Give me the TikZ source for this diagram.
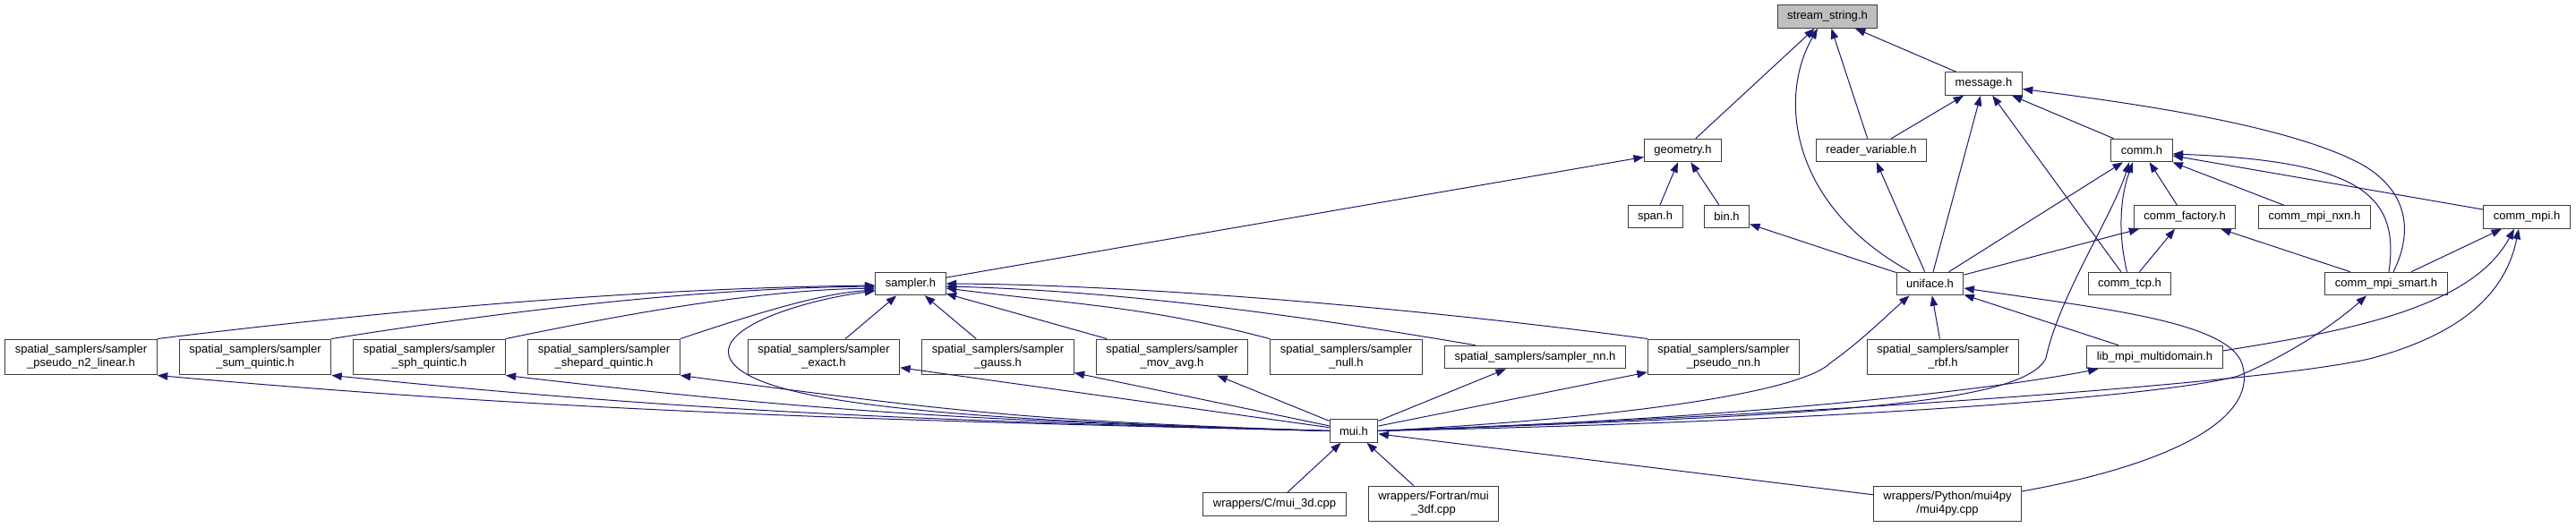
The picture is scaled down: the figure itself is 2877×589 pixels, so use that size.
\documentclass[tikz,border=0pt]{standalone}
\usepackage{fontspec}
\setmainfont{Liberation Sans}
\usetikzlibrary{arrows.meta,calc}
\definecolor{EdgeBlue}{RGB}{25,25,112}
\definecolor{BoxLine}{RGB}{60,60,60}
\definecolor{RootFill}{RGB}{191,191,191}
\tikzset{
  filebox/.style={draw=BoxLine,fill=white,line width=1pt,inner xsep=11pt,inner ysep=6.4pt,
    minimum height=25.6pt,align=center,font=\fontsize{13}{15}\selectfont},
  rootbox/.style={filebox,fill=RootFill},
  incl/.style={-{Triangle[length=11.5pt,width=8.5pt]},draw=EdgeBlue,line width=1pt}
}

\begin{document}
\begin{tikzpicture}[x=1pt,y=1pt]
  \useasboundingbox (0,0) rectangle (2877,-589);

  \node[rootbox] (stream) at (2041,-18.5) {stream\_string.h};
  \node[filebox] (message) at (2215.5,-93.5) {message.h};
  \node[filebox] (geometry) at (1879.5,-168) {geometry.h};
  \node[filebox] (reader) at (2090,-168) {reader\_variable.h};
  \node[filebox] (comm) at (2392,-168) {comm.h};
  \node[filebox] (span) at (1848.5,-242) {span.h};
  \node[filebox] (bin) at (1928.5,-242) {bin.h};
  \node[filebox] (factory) at (2440,-242.5) {comm\_factory.h};
  \node[filebox] (mpinxn) at (2585,-242.5) {comm\_mpi\_nxn.h};
  \node[filebox] (mpi) at (2822,-242.5) {comm\_mpi.h};
  \node[filebox] (sampler) at (1017,-317) {sampler.h};
  \node[filebox] (uniface) at (2155.5,-317) {uniface.h};
  \node[filebox] (tcp) at (2378.5,-317) {comm\_tcp.h};
  \node[filebox] (smart) at (2665,-317) {comm\_mpi\_smart.h};

  \node[filebox] (pnlinear) at (90.5,-399) {spatial\_samplers/sampler\\\_pseudo\_n2\_linear.h};
  \node[filebox] (sumquintic) at (285,-399) {spatial\_samplers/sampler\\\_sum\_quintic.h};
  \node[filebox] (sphquintic) at (479.5,-399) {spatial\_samplers/sampler\\\_sph\_quintic.h};
  \node[filebox] (shepquintic) at (674.5,-399) {spatial\_samplers/sampler\\\_shepard\_quintic.h};
  \node[filebox] (exact) at (920,-399) {spatial\_samplers/sampler\\\_exact.h};
  \node[filebox] (gauss) at (1114.5,-399) {spatial\_samplers/sampler\\\_gauss.h};
  \node[filebox] (movavg) at (1309,-399) {spatial\_samplers/sampler\\\_mov\_avg.h};
  \node[filebox] (null) at (1503.5,-399) {spatial\_samplers/sampler\\\_null.h};
  \node[filebox] (nn) at (1714.5,-399) {spatial\_samplers/sampler\_nn.h};
  \node[filebox] (pseudonn) at (1925,-399) {spatial\_samplers/sampler\\\_pseudo\_nn.h};
  \node[filebox] (rbf) at (2170,-399) {spatial\_samplers/sampler\\\_rbf.h};
  \node[filebox] (multidomain) at (2406.5,-399) {lib\_mpi\_multidomain.h};

  \node[filebox] (mui) at (1512,-481.5) {mui.h};
  \node[filebox] (wrapc) at (1423.5,-563.5) {wrappers/C/mui\_3d.cpp};
  \node[filebox] (wrapf) at (1601,-563) {wrappers/Fortran/mui\\\_3df.cpp};
  \node[filebox] (wrappy) at (2175,-563) {wrappers/Python/mui4py\\/mui4py.cpp};

  % includes of stream_string.h and message.h
  \draw[incl] (geometry) -- (stream);
  \draw[incl] (reader) -- (stream);
  \draw[incl] (message) -- (stream);
  \draw[incl] ([xshift=-22pt]uniface.north) .. controls (2000,-230) and (1985,-110) .. ([xshift=-11pt]stream.south);
  \draw[incl] (reader) -- (message);
  \draw[incl] (uniface) -- (message);
  \draw[incl] (tcp) -- (message);
  \draw[incl] (comm) -- (message);
  \draw[incl] ([xshift=8pt]smart.north) .. controls (2695,-260) and (2690,-215) .. (2640,-185)
    .. controls (2560,-140) and (2380,-115) .. ([yshift=-6pt]message.east);

  \draw[incl] (span) -- (geometry);
  \draw[incl] (bin) -- (geometry);
  \draw[incl] (sampler) -- (geometry);
  \draw[incl] (uniface) -- (reader);
  \draw[incl] (uniface) -- (bin);

  % comm layer
  \draw[incl] (uniface) -- (comm);
  \draw[incl] (factory) -- (comm);
  \draw[incl] (mpinxn) -- (comm);
  \draw[incl] (mpi) -- (comm);
  \draw[incl] ([xshift=-3pt]tcp.north) .. controls (2365,-260) and (2368,-220) .. ([xshift=-10pt]comm.south);
  \draw[incl] ([xshift=3pt]smart.north) .. controls (2680,-220) and (2640,-180) .. ([yshift=-4pt]comm.east);
  \draw[incl] (mui.east) .. controls (2000,-465) and (2260,-455) .. (2285,-400)
    .. controls (2300,-330) and (2360,-240) .. ([xshift=-14pt]comm.south);
  \draw[incl] (uniface) -- (factory);
  \draw[incl] (tcp) -- (factory);
  \draw[incl] (smart) -- (factory);
  \draw[incl] (smart) -- (mpi);
  \draw[incl] ([yshift=7pt]multidomain.east) .. controls (2620,-370) and (2760,-345) .. ([xshift=-14pt]mpi.south);
  \draw[incl] (mui.east) .. controls (2100,-460) and (2550,-425) .. (2650,-400)
    .. controls (2760,-370) and (2800,-320) .. ([xshift=-9pt]mpi.south);
  \draw[incl] (mui.east) .. controls (2100,-470) and (2430,-440) .. (2500,-420)
    .. controls (2560,-395) and (2610,-360) .. ([xshift=-22pt]smart.south);

  % uniface.h
  \draw[incl] (rbf) -- (uniface);
  \draw[incl] (multidomain) -- (uniface);
  \draw[incl] ([yshift=14pt]wrappy.east) .. controls (2420,-520) and (2520,-470) .. (2505,-410)
    .. controls (2495,-360) and (2350,-345) .. ([yshift=-5pt]uniface.east);
  \draw[incl] (mui.east) .. controls (1800,-468) and (2010,-440) .. (2045,-405)
    .. controls (2080,-380) and (2110,-350) .. ([xshift=-23pt]uniface.south);
  \draw[incl] (mui.east) .. controls (1900,-470) and (2200,-440) .. ([xshift=-63pt]multidomain.south);

  % sampler.h
  \draw[incl] (pnlinear.north east) .. controls (450,-345) and (720,-322) .. ([yshift=-2pt]sampler.west);
  \draw[incl] (sumquintic.north east) .. controls (600,-342) and (800,-322) .. ([yshift=-3pt]sampler.west);
  \draw[incl] (sphquintic.north east) .. controls (750,-340) and (870,-324) .. ([yshift=-5pt]sampler.west);
  \draw[incl] (shepquintic.north east) .. controls (860,-345) and (920,-328) .. ([yshift=-7pt]sampler.west);
  \draw[incl] (exact) -- (sampler);
  \draw[incl] (gauss) -- (sampler);
  \draw[incl] (movavg) -- (sampler);
  \draw[incl] (null.north west) .. controls (1280,-342) and (1198,-340) .. ([yshift=-5pt]sampler.east);
  \draw[incl] ([xshift=-67pt]nn.north) .. controls (1450,-352) and (1250,-325) .. ([yshift=-3pt]sampler.east);
  \draw[incl] (pseudonn.north west) .. controls (1550,-340) and (1250,-318) .. (sampler.east);
  \draw[incl] (mui.west) .. controls (1100,-470) and (840,-455) .. (815,-400)
    .. controls (800,-365) and (900,-335) .. ([yshift=-8pt]sampler.west);

  % mui.h
  \draw[incl] (wrapc) -- (mui);
  \draw[incl] (wrapf) -- (mui);
  \draw[incl] (wrappy) -- (mui);
  \draw[incl] (mui) -- (nn);
  \draw[incl] (mui) -- (pseudonn);
  \draw[incl] (mui) -- (exact);
  \draw[incl] (mui) -- (gauss);
  \draw[incl] (mui) -- (movavg);
  \draw[incl] (mui.west) .. controls (1000,-470) and (640,-461) .. (pnlinear.south east);
  \draw[incl] (mui.west) .. controls (1050,-470) and (790,-462) .. (sumquintic.south east);
  \draw[incl] (mui.west) .. controls (1100,-470) and (930,-462) .. (sphquintic.south east);
  \draw[incl] (mui.west) .. controls (1150,-470) and (1080,-462) .. (shepquintic.south east);
\end{tikzpicture}
\end{document}
